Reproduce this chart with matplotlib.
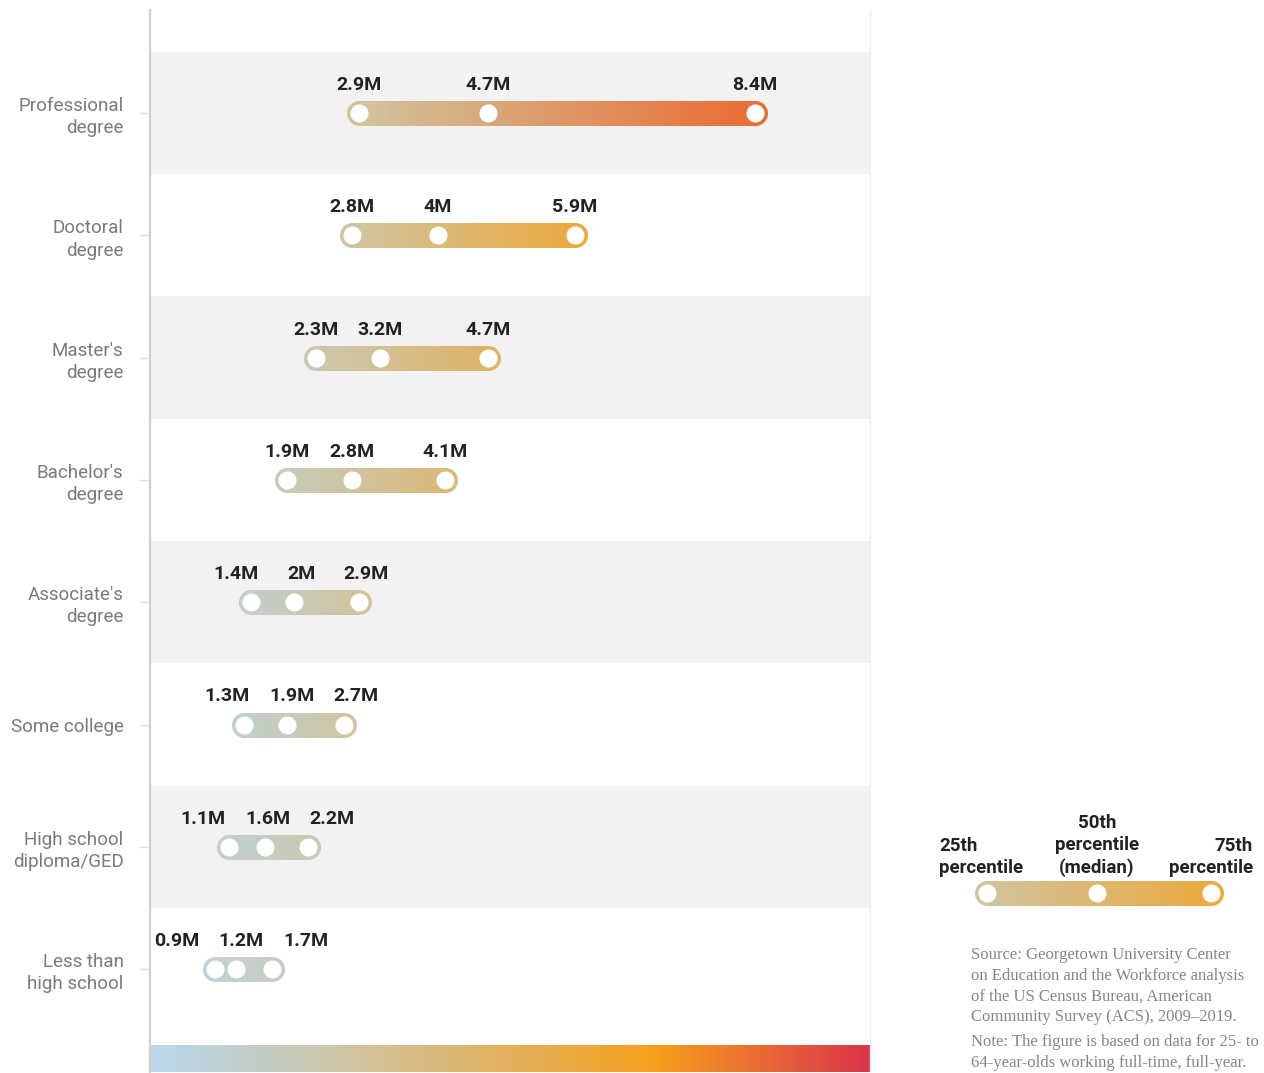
import numpy as np
import matplotlib
matplotlib.use('Agg')
import matplotlib.pyplot as plt
from matplotlib.collections import LineCollection
from matplotlib.colors import LinearSegmentedColormap, to_rgba

# lifetime earnings by education, millions of dollars
cats = ['Professional\ndegree', 'Doctoral\ndegree', "Master's\ndegree", "Bachelor's\ndegree",
        "Associate's\ndegree", 'Some college', 'High school\ndiploma/GED', 'Less than\nhigh school']
p25 = [2.9, 2.8, 2.3, 1.9, 1.4, 1.3, 1.1, 0.9]
p50 = [4.7, 4.0, 3.2, 2.8, 2.0, 1.9, 1.6, 1.2]
p75 = [8.4, 5.9, 4.7, 4.1, 2.9, 2.7, 2.2, 1.7]
lab25 = ['2.9M', '2.8M', '2.3M', '1.9M', '1.4M', '1.3M', '1.1M', '0.9M']
lab50 = ['4.7M', '4M', '3.2M', '2.8M', '2M', '1.9M', '1.6M', '1.2M']
lab75 = ['8.4M', '5.9M', '4.7M', '4.1M', '2.9M', '2.7M', '2.2M', '1.7M']

stops = [(0.0, '#b8d8ec'), (0.15, '#c3cdc6'), (0.3, '#d2c39a'), (0.5, '#e3b05c'),
         (0.7, '#f6a11c'), (0.85, '#ea6a35'), (1.0, '#dc3449')]
cmap = LinearSegmentedColormap.from_list('earn', stops)
XMAX = 10.0

W, H = 1264, 1073
fig = plt.figure(figsize=(W/100, H/100), dpi=100)
ax = fig.add_axes([150/W, 1-1072/H, 720/W, (1072-10)/H])
ax.set_xlim(0, XMAX)
ax.set_ylim(7.84, -0.842)

def grad_bar(a, x0, x1, y, v0, v1, lw=18, z=3):
    # bar coloured by a straight blend between the colours of its two ends
    c0 = np.array(to_rgba(cmap(v0/XMAX))); c1 = np.array(to_rgba(cmap(v1/XMAX)))
    n = 100
    xs = np.linspace(x0, x1, n+1)
    step = xs[1]-xs[0]
    segs = [[(xs[k], y), (min(xs[k+1]+step, x1), y)] for k in range(n)]
    cols = [c0 + (c1-c0)*(k+0.5)/n for k in range(n)]
    a.plot([x0], [y], 'o', ms=lw, color=c0, mew=0, zorder=z)
    a.plot([x1], [y], 'o', ms=lw, color=c1, mew=0, zorder=z)
    a.add_collection(LineCollection(segs, colors=cols, linewidths=lw, capstyle='butt', zorder=z+0.1))

def spread(xs, gap=0.9):
    pos = list(xs)
    for _ in range(300):
        moved = False
        for i in range(len(pos)-1):
            d = pos[i+1]-pos[i]
            if d < gap - 1e-6:
                s = (gap-d)/2
                pos[i] -= s; pos[i+1] += s; moved = True
        if not moved:
            break
    return pos

for i in range(len(cats)):
    if i % 2 == 0:
        ax.axhspan(i-0.5, i+0.5, color='#f2f2f2', lw=0, zorder=0)
    grad_bar(ax, p25[i], p75[i], i, p25[i], p75[i])
    ax.plot([p25[i], p50[i], p75[i]], [i]*3, 'o', ms=13, color='white', mew=0, zorder=5)
    lx = spread([p25[i], p50[i], p75[i]])
    for x, t in zip(lx, [lab25[i], lab50[i], lab75[i]]):
        ax.text(x, i-0.23, t, ha='center', va='center', fontsize=14, fontweight='bold',
                color='#222222', family='Roboto', zorder=6)

# colour scale strip along the bottom
grad = np.linspace(0, 1, 512).reshape(1, -1)
ax.imshow(grad, cmap=cmap, extent=(0, XMAX, 7.84, 7.62), aspect='auto', zorder=2)
ax.set_ylim(7.84, -0.842)

ax.set_yticks(range(len(cats)))
ax.set_yticklabels(cats, fontsize=13.5, color='#7a7a7a', family='Roboto', linespacing=1.3)
ax.tick_params(axis='y', length=8, width=1, color='#e4e4e4', pad=11)
ax.set_xticks([])
for s in ['top', 'bottom']:
    ax.spines[s].set_visible(False)
ax.spines['left'].set_color('#cfcfcf'); ax.spines['left'].set_linewidth(1.6)
ax.spines['right'].set_color('#f0f0f0'); ax.spines['right'].set_linewidth(1)

# legend + notes drawn in pixel coordinates
ov = fig.add_axes([0, 0, 1, 1]); ov.set_xlim(0, W); ov.set_ylim(H, 0); ov.axis('off')
grad_bar(ov, 987, 1211, 893, 2.9, 5.9)
ov.plot([987, 1097, 1211], [893]*3, 'o', ms=13, color='white', mew=0, zorder=5)
kw = dict(fontsize=13.5, fontweight='bold', color='#222222', family='Roboto', linespacing=1.3, va='bottom')
ov.text(939, 877, '25th\npercentile', ha='left', **kw)
ov.text(1097, 877, '50th\npercentile\n(median)', ha='center', multialignment='center', **kw)
ov.text(1253, 877, '75th\npercentile', ha='right', multialignment='right', **kw)

src = ('Source: Georgetown University Center\non Education and the Workforce analysis\n'
       'of the US Census Bureau, American\nCommunity Survey (ACS), 2009\u20132019.')
note = 'Note: The figure is based on data for 25- to\n64-year-olds working full-time, full-year.'
skw = dict(fontsize=12, color='#858585', family='Liberation Serif', linespacing=1.4, va='top', ha='left')
ov.text(971, 947, src, **skw)
ov.text(971, 1034, note, **skw)

fig.savefig('out.png', dpi=100)
